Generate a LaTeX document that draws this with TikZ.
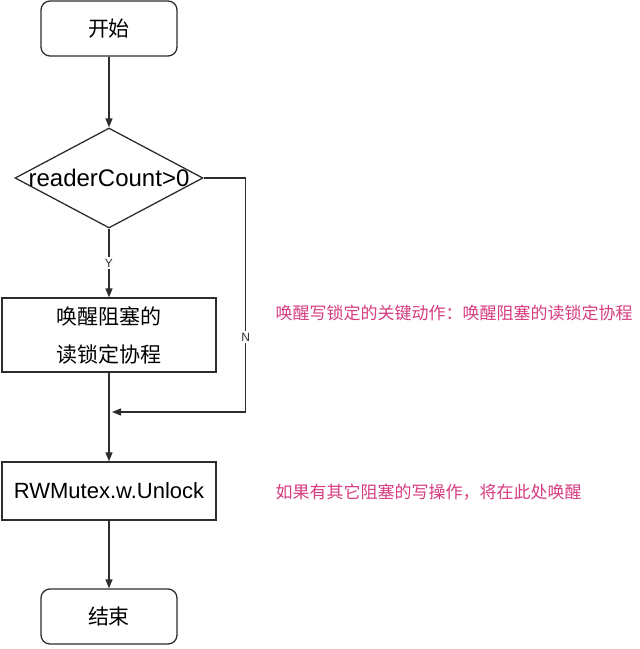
\documentclass[tikz,border=0pt]{standalone}
\usepackage{fontspec}
\setmainfont{Noto Sans CJK SC}
\newfontfamily\latinfont{Liberation Sans}
\usepackage{xcolor}
\usetikzlibrary{arrows.meta, positioning, calc, shapes.geometric}
\definecolor{linegray}{RGB}{45,45,45}
\definecolor{notepink}{RGB}{214,60,128}

\begin{document}
\begin{tikzpicture}[x=1pt, y=-1pt,
    box/.style={draw=linegray, line width=1.3pt, inner sep=0pt, font=\fontsize{21}{38}\selectfont, align=center},
    terminal/.style={box, rounded corners=9pt, minimum width=136pt, minimum height=55pt},
    process/.style={box, minimum width=214pt},
    decision/.style={box, diamond, minimum width=188pt, minimum height=100pt},
    arr/.style={draw=linegray, line width=1.3pt, -{Triangle[length=9pt, width=7pt]}},
    branch/.style={font=\latinfont\fontsize{12}{14}\selectfont, fill=white, inner sep=2pt, text=linegray},
    note/.style={anchor=west, text=notepink, font=\fontsize{17}{20}\selectfont}]
    \useasboundingbox (0,0) rectangle (640,649);

    % 流程框
    \node[terminal] (start) at (109,28.5) {开始};
    \node[decision] (cond) at (109,178) {\makebox[0pt]{\latinfont\fontsize{24}{28}\selectfont readerCount>0}};
    \node[process, minimum height=74pt] (wake) at (109,335) {唤醒阻塞的\\读锁定协程};
    \node[process, minimum height=58pt] (unlock) at (109,491) {\latinfont\fontsize{22}{26}\selectfont RWMutex.w.Unlock};
    \node[terminal] (finish) at (109,616.5) {结束};
    \coordinate (merge) at (112,412);

    % 连线
    \draw[arr] (start) -- (cond);
    \draw[arr] (cond) -- node[branch] {Y} (wake);
    \draw[arr] (cond.east) -- ++(42,0) |- node[branch, pos=0.34] {N} (merge);
    \draw[arr] (wake) -- (unlock);
    \draw[arr] (unlock) -- (finish);

    % 说明
    \node[note] (note1) at (272,313) {唤醒写锁定的关键动作：唤醒阻塞的读锁定协程};
    \node[note] (note2) at (272,492) {如果有其它阻塞的写操作，将在此处唤醒};
\end{tikzpicture}
\end{document}
